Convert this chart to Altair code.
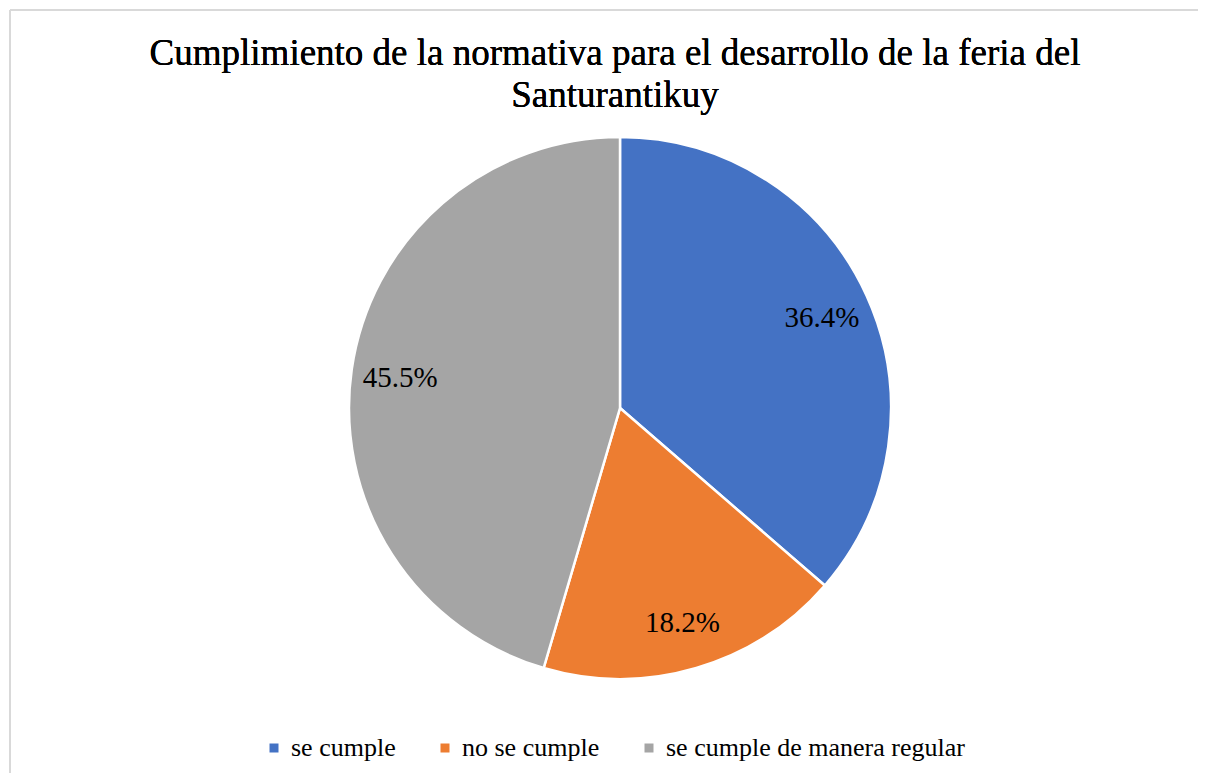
import altair as alt
import pandas as pd

categorias = ["se cumple", "no se cumple", "se cumple de manera regular"]
porcentajes = [36.4, 18.2, 45.5]
colores = ["#4472C4", "#ED7D31", "#A5A5A5"]
orden = [0, 1, 2]
titulo = ["Cumplimiento de la normativa para el desarrollo de la feria del", "Santurantikuy"]

df = pd.DataFrame({
    "categoria": categorias,
    "porcentaje": porcentajes,
    "orden": orden,
    "etiqueta": [f"{v:.1f}%" for v in porcentajes],
})

FONT = "'Liberation Serif', 'Times New Roman', 'DejaVu Serif', serif"
CX, CY = 610, 283

base = alt.Chart(df).encode(
    theta=alt.Theta("porcentaje:Q", stack=True),
    order=alt.Order("orden:Q"),
    x=alt.value(CX),
    y=alt.value(CY),
)

arcs = base.mark_arc(radius=271, stroke="white", strokeWidth=2.5).encode(
    color=alt.Color(
        "categoria:N",
        scale=alt.Scale(domain=categorias, range=colores),
        sort=categorias,
        legend=alt.Legend(
            title=None,
            orient="none",
            legendX=251,
            legendY=610,
            direction="horizontal",
            columns=3,
            symbolType="square",
            symbolSize=81,
            symbolStrokeWidth=0,
            labelFont=FONT,
            labelFontSize=26,
            labelColor="black",
            labelOffset=4,
            columnPadding=36,
            padding=0,
            labelLimit=600,
        ),
    )
)

labels = base.mark_text(
    radius=222, font=FONT, fontSize=29, fontWeight="normal", color="black",
    align="center", baseline="middle", dy=2,
).encode(
    text="etiqueta:N"
)

title_mark = alt.Chart(df).mark_text(
    font=FONT, fontSize=37, color="black", lineHeight=42,
    align="center", baseline="alphabetic",
).encode(
    text=alt.value(titulo), x=alt.value(605), y=alt.value(-60)
)

border_top = alt.Chart(df).mark_rule(color="#d9d9d9", strokeWidth=2).encode(
    x=alt.value(0), x2=alt.value(1300), y=alt.value(-115)
)
border_left = alt.Chart(df).mark_rule(color="#d9d9d9", strokeWidth=2).encode(
    x=alt.value(0), y=alt.value(-115), y2=alt.value(800)
)

chart = alt.layer(border_top, border_left, arcs, labels, title_mark).properties(
    width=1188,
    height=648,
    padding={"left": 2, "top": 117, "right": 0, "bottom": 0},
    autosize=alt.AutoSizeParams(type="none"),
).configure_view(stroke=None)

chart.save("out.html", embed_options={"renderer": "svg", "actions": False})
